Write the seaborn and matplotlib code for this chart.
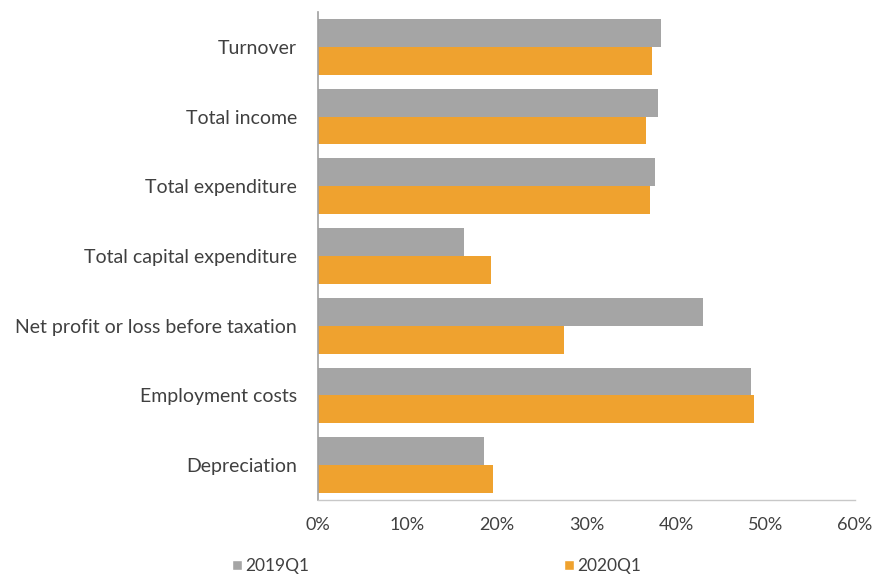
import matplotlib
matplotlib.use("Agg")
import matplotlib.pyplot as plt
import seaborn as sns
import pandas as pd
from matplotlib.ticker import PercentFormatter
from matplotlib.patches import Patch

categories = ["Turnover", "Total income", "Total expenditure", "Total capital expenditure",
              "Net profit or loss before taxation", "Employment costs", "Depreciation"]
series_names = ["2019Q1", "2020Q1"]
values_2019 = [38.3, 38.0, 37.6, 16.3, 43.0, 48.4, 18.6]
values_2020 = [37.3, 36.7, 37.1, 19.3, 27.5, 48.7, 19.5]
xticks = [0, 10, 20, 30, 40, 50, 60]

df = pd.DataFrame({
    "category": categories * 2,
    "series": [series_names[0]] * len(categories) + [series_names[1]] * len(categories),
    "value": values_2019 + values_2020,
})

sns.set_theme(style="white")
plt.rcParams["font.family"] = ["Lato", "DejaVu Sans"]

fig = plt.figure(figsize=(8.76, 5.74), dpi=100)
ax = fig.add_axes([0.363, 0.129, 0.613, 0.850])

sns.barplot(data=df, y="category", x="value", hue="series", orient="h",
            palette=["#A5A5A5", "#EFA22F"], width=0.8, ax=ax, legend=False,
            saturation=1, linewidth=0)

ax.set_xlim(0, 60)
ax.set_ylim(6.5, -0.5)
ax.set_xticks(xticks)
ax.xaxis.set_major_formatter(PercentFormatter(decimals=0))
ax.set_xlabel("")
ax.set_ylabel("")
ax.tick_params(axis="x", labelsize=13, colors="#404040", pad=12, length=0)
ax.tick_params(axis="y", labelsize=14, colors="#404040", pad=15, length=0)
for s in ["top", "right"]:
    ax.spines[s].set_visible(False)
ax.spines["left"].set_color("#A0A0A0")
ax.spines["bottom"].set_color("#C8C8C8")
ax.spines["left"].set_linewidth(1.2)
ax.spines["bottom"].set_linewidth(1.0)

handles = [Patch(facecolor="#A5A5A5"), Patch(facecolor="#EFA22F")]
leg = fig.legend(handles, series_names, loc="center left", bbox_to_anchor=(0.247, 0.014),
                 ncol=2, frameon=False, fontsize=12.5, handlelength=0.55, handleheight=0.55,
                 handletextpad=0.2, columnspacing=14.7, labelcolor="#404040")

fig.savefig("out.png", dpi=100)
